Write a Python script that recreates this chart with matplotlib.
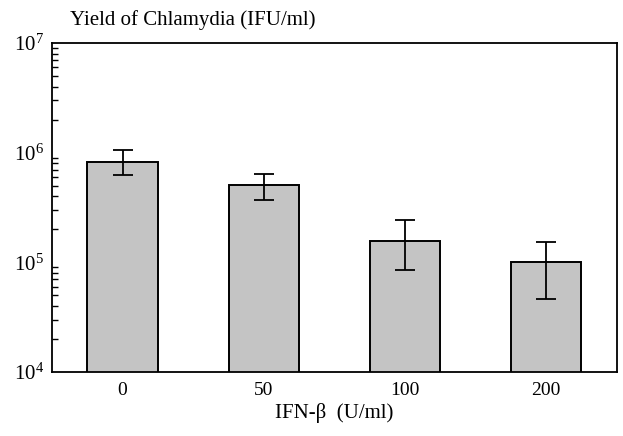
import matplotlib.pyplot as plt
from matplotlib.ticker import LogLocator, NullFormatter

# IFN-beta dose (U/ml) and chlamydia yield (IFU/ml)
doses = ["0", "50", "100", "200"]
yield_mean = [8.2e5, 5.1e5, 1.57e5, 1.01e5]
err_high = [1.05e6, 6.4e5, 2.42e5, 1.54e5]
err_low = [6.25e5, 3.72e5, 8.45e4, 4.6e4]

plt.rcParams["font.family"] = ["Liberation Serif", "DejaVu Serif"]

fig = plt.figure(figsize=(6.23, 4.36), dpi=100)
ax = fig.add_axes([0.0835, 0.1468, 0.9065, 0.7542])

x = range(len(doses))
ax.bar(x, yield_mean, width=0.5, color="#c4c4c4", edgecolor="black",
       linewidth=1.4, zorder=2)

lower = [m - lo for m, lo in zip(yield_mean, err_low)]
upper = [hi - m for m, hi in zip(yield_mean, err_high)]
ax.errorbar(x, yield_mean, yerr=[lower, upper], fmt="none", ecolor="black",
            elinewidth=1.3, capsize=7, capthick=1.3, zorder=3)

ax.set_yscale("log")
ax.set_ylim(1e4, 1e7)
ax.set_xlim(-0.5, 3.5)
ax.yaxis.set_major_locator(LogLocator(base=10, numticks=10))
ax.yaxis.set_minor_locator(LogLocator(base=10, subs=range(2, 10), numticks=10))
ax.yaxis.set_minor_formatter(NullFormatter())
ax.tick_params(axis="y", which="both", direction="in", right=False,
               labelsize=15, pad=6)
ax.tick_params(axis="y", which="major", length=0)
ax.tick_params(axis="y", which="minor", length=4, width=1)
ax.set_xticks(list(x))
ax.set_xticklabels(doses)
ax.tick_params(axis="x", length=0, labelsize=14, pad=7)

for side in ax.spines.values():
    side.set_linewidth(1.3)

ax.set_xlabel("IFN-\u03b2  (U/ml)", fontsize=15, labelpad=3)
fig.text(0.112, 0.955, "Yield of Chlamydia (IFU/ml)", fontsize=15,
         ha="left", va="center")

fig.savefig("out.png", dpi=100)
